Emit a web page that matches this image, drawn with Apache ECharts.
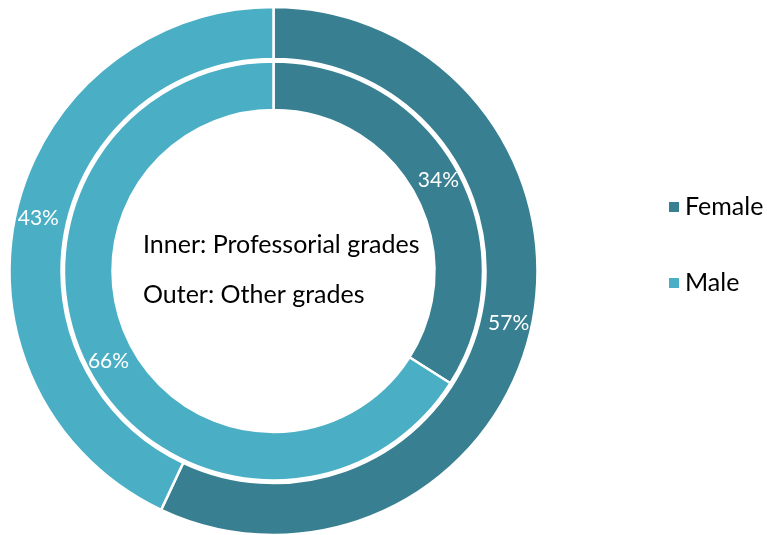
<!DOCTYPE html>
<html>
<head>
<meta charset="utf-8">
<script src="https://cdn.jsdelivr.net/npm/echarts@6/dist/echarts.min.js"></script>
<style>html,body{margin:0;padding:0;background:#fff;}#main{width:767px;height:535px;}</style>
</head>
<body>
<div id="main"></div>
<script>
const categories = ['Female', 'Male'];
const innerValues = [34, 66];   // Professorial grades
const outerValues = [57, 43];   // Other grades
const colors = ['#377F91', '#4AAFC5'];
const centerLines = ['Inner: Professorial grades', 'Outer: Other grades'];

const FONT = 'Lato';
const cx = 273.5, cy = 271;

function mk(vals) {
  return categories.map((c, i) => ({ name: c, value: vals[i], itemStyle: { color: colors[i] } }));
}
const labelCfg = {
  show: true, position: 'inside', formatter: '{c}%',
  color: '#ffffff', fontFamily: FONT, fontSize: 21
};

const chart = echarts.init(document.getElementById('main'), null, { renderer: 'canvas' });
chart.setOption({
  animation: false,
  backgroundColor: '#ffffff',
  legend: {
    orient: 'vertical', left: 662, top: 186,
    itemWidth: 12, itemHeight: 12, icon: 'rect', itemGap: 44,
    data: categories,
    textStyle: { fontFamily: FONT, fontSize: 25, color: '#000', lineHeight: 32 }
  },
  series: [
    {
      type: 'pie', center: [cx, cy], radius: [212, 264], startAngle: 90, clockwise: true,
      silent: true, label: labelCfg, labelLine: { show: false },
      itemStyle: { borderColor: '#fff', borderWidth: 2.5 },
      data: mk(outerValues)
    },
    {
      type: 'pie', center: [cx, cy], radius: [161, 209.5], startAngle: 90, clockwise: true,
      silent: true, label: labelCfg, labelLine: { show: false },
      itemStyle: { borderColor: '#fff', borderWidth: 2.5 },
      data: mk(innerValues)
    }
  ],
  graphic: centerLines.map((t, i) => ({
    type: 'text', left: 143, top: 232 + i * 50,
    style: { text: t, fill: '#000', font: '25px ' + FONT }
  }))
});
</script>
</body>
</html>
